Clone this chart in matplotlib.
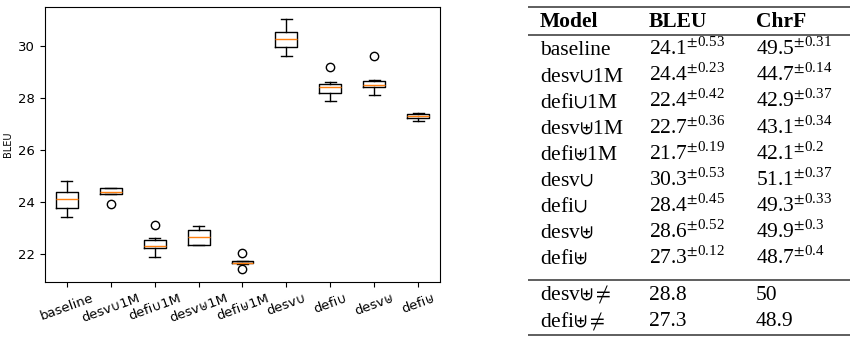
import matplotlib
matplotlib.use("Agg")
import matplotlib.pyplot as plt
from matplotlib.lines import Line2D

# box statistics
labels = ["baseline", "desv\u222a1M", "defi\u222a1M", "desv\u228e1M", "defi\u228e1M",
          "desv\u222a", "defi\u222a", "desv\u228e", "defi\u228e"]
whislo = [23.41, 24.30, 21.90, 22.33, 21.63, 29.62, 27.90, 28.13, 27.13]
q1     = [23.76, 24.30, 22.22, 22.35, 21.64, 29.95, 28.20, 28.41, 27.24]
med    = [24.10, 24.39, 22.32, 22.64, 21.67, 30.28, 28.43, 28.50, 27.31]
q3     = [24.40, 24.53, 22.52, 22.92, 21.72, 30.55, 28.55, 28.65, 27.37]
whishi = [24.81, 24.53, 22.63, 23.08, 21.73, 31.03, 28.63, 28.69, 27.41]
fliers = [[], [23.92], [23.10], [], [22.03, 21.41], [], [29.21], [29.63], []]

# table contents
tab_header = ["Model", "BLEU", "ChrF"]
tab_models = [r"baseline", r"desv$\cup$1M", r"defi$\cup$1M", r"desv$\uplus$1M",
              r"defi$\uplus$1M", r"desv$\cup$", r"defi$\cup$", r"desv$\uplus$",
              r"defi$\uplus$"]
tab_bleu = ["24.1", "24.4", "22.4", "22.7", "21.7", "30.3", "28.4", "28.6", "27.3"]
tab_bleu_sd = ["0.53", "0.23", "0.42", "0.36", "0.19", "0.53", "0.45", "0.52", "0.12"]
tab_chrf = ["49.5", "44.7", "42.9", "43.1", "42.1", "51.1", "49.3", "49.9", "48.7"]
tab_chrf_sd = ["0.31", "0.14", "0.37", "0.34", "0.2", "0.37", "0.33", "0.3", "0.4"]
extra_models = [r"desv$\uplus\neq$", r"defi$\uplus\neq$"]
extra_bleu = ["28.8", "27.3"]
extra_chrf = ["50", "48.9"]

plt.rcParams['mathtext.fontset'] = 'stix'

W, H = 858, 342
fig = plt.figure(figsize=(W / 100, H / 100), dpi=100)

ax = fig.add_axes([45 / W, 1 - 282 / H, 395 / W, 275 / H])
stats = []
for i in range(len(labels)):
    stats.append(dict(label=labels[i], whislo=whislo[i], q1=q1[i], med=med[i],
                      q3=q3[i], whishi=whishi[i], fliers=fliers[i]))
ax.bxp(stats, showfliers=True)
ax.set_ylim(20.92, 31.5)
ax.set_yticks([22, 24, 26, 28, 30])
ax.tick_params(labelsize=9.5)
for t in ax.get_xticklabels():
    t.set_rotation(20)
ax.set_ylabel("BLEU", fontsize=7)

# table drawn on its own axes, y in pixel rows
tx = fig.add_axes([528 / W, 1 - 336 / H, 322 / W, 330 / H])
tx.set_xlim(528, 850)
tx.set_ylim(336, 6)
tx.axis("off")

col_x = [540, 649, 756]
serif = ['Liberation Serif', 'DejaVu Serif']
fs = 15.5

for x, h in zip(col_x, tab_header):
    tx.text(x, 27, h, fontsize=fs, fontweight='bold', family=serif, va='baseline')

for i in range(len(tab_models)):
    yb = 55 + 26.1 * i
    tx.text(col_x[0], yb, tab_models[i], fontsize=fs, family=serif, va='baseline')
    tx.text(col_x[1], yb, r"%s$^{\pm \mathregular{%s}}$" % (tab_bleu[i], tab_bleu_sd[i]),
            fontsize=fs, family=serif, va='baseline')
    tx.text(col_x[2], yb, r"%s$^{\pm \mathregular{%s}}$" % (tab_chrf[i], tab_chrf_sd[i]),
            fontsize=fs, family=serif, va='baseline')

for i in range(len(extra_models)):
    yb = 299.5 + 26.6 * i
    tx.text(col_x[0], yb, extra_models[i], fontsize=fs, family=serif, va='baseline')
    tx.text(col_x[1], yb, extra_bleu[i], fontsize=fs, family=serif, va='baseline')
    tx.text(col_x[2], yb, extra_chrf[i], fontsize=fs, family=serif, va='baseline')

for yl in [7, 35, 280, 335]:
    tx.add_line(Line2D([528, 850], [yl, yl], color='#333333', lw=1.1))

fig.savefig("out.png", dpi=100)
